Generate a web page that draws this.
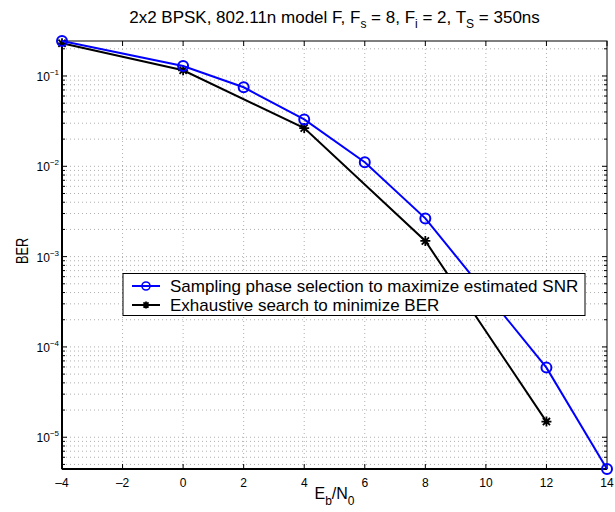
<!DOCTYPE html>
<html>
<head>
<meta charset="utf-8">
<script src="https://cdn.jsdelivr.net/npm/d3@7"></script>
<style>
  body { margin: 0; background: #fff; }
  svg text { font-family: "Liberation Sans", Arial, Helvetica, sans-serif; }
</style>
</head>
<body>
<div id="chart"></div>
<script>
// Data.
const snrSelectX = [-4, 0, 2, 4, 6, 8, 12, 14];
const snrSelectBER = [0.244, 0.129, 0.075, 0.033, 0.0111, 0.00265, 5.9e-5, 4.45e-6];
const exhaustiveX = [-4, 0, 4, 8, 12];
const exhaustiveBER = [0.23, 0.1156, 0.0265, 0.00149, 1.49e-5];
const xTicks = [-4, -2, 0, 2, 4, 6, 8, 10, 12, 14];
const yExponents = [-1, -2, -3, -4, -5];
const seriesNames = [
  "Sampling phase selection to maximize estimated SNR",
  "Exhaustive search to minimize BER",
];

const width = 615;
const height = 512;
const margin = { top: 41, right: 8, bottom: 43, left: 62 };

const svg = d3
  .select("#chart")
  .append("svg")
  .attr("width", width)
  .attr("height", height);

const x = d3
  .scaleLinear()
  .domain([-4, 14])
  .range([margin.left, width - margin.right]);

const y = d3
  .scaleLog()
  .domain([4.45e-6, 0.244])
  .range([height - margin.bottom, margin.top]);

// Grid lines.
const grid = svg.append("g").attr("stroke", "#9a9a9a").attr("stroke-width", 0.8)
  .attr("stroke-dasharray", "1,3");

grid
  .selectAll("line.vx")
  .data(xTicks.slice(1, -1))
  .enter()
  .append("line")
  .attr("x1", (d) => x(d))
  .attr("x2", (d) => x(d))
  .attr("y1", margin.top)
  .attr("y2", height - margin.bottom);

// Minor and major log values within the domain.
const logVals = [];
for (let e = -6; e <= 0; e++) {
  for (let m = 1; m <= 9; m++) {
    const v = m * Math.pow(10, e);
    if (v >= y.domain()[0] && v <= y.domain()[1]) logVals.push({ v, major: m === 1 });
  }
}

grid
  .selectAll("line.hy")
  .data(logVals)
  .enter()
  .append("line")
  .attr("x1", margin.left)
  .attr("x2", width - margin.right)
  .attr("y1", (d) => y(d.v))
  .attr("y2", (d) => y(d.v));

// Axis box and ticks.
const box = svg.append("g").attr("stroke", "#000");
box
  .append("rect")
  .attr("x", margin.left)
  .attr("y", margin.top)
  .attr("width", width - margin.left - margin.right)
  .attr("height", height - margin.top - margin.bottom)
  .attr("fill", "none")
  .attr("stroke-width", 1);

box.append("line")
  .attr("x1", margin.left).attr("x2", margin.left)
  .attr("y1", margin.top).attr("y2", height - margin.bottom)
  .attr("stroke-width", 2);
box.append("line")
  .attr("x1", margin.left).attr("x2", width - margin.right)
  .attr("y1", height - margin.bottom).attr("y2", height - margin.bottom)
  .attr("stroke-width", 2);

xTicks.forEach((t) => {
  box.append("line")
    .attr("x1", x(t)).attr("x2", x(t))
    .attr("y1", height - margin.bottom).attr("y2", height - margin.bottom - 5);
  box.append("line")
    .attr("x1", x(t)).attr("x2", x(t))
    .attr("y1", margin.top).attr("y2", margin.top + 5);
});

logVals.forEach((d) => {
  const len = d.major ? 5 : 3;
  box.append("line")
    .attr("x1", margin.left).attr("x2", margin.left + len)
    .attr("y1", y(d.v)).attr("y2", y(d.v));
  box.append("line")
    .attr("x1", width - margin.right).attr("x2", width - margin.right - len)
    .attr("y1", y(d.v)).attr("y2", y(d.v));
});

// X tick labels.
svg
  .append("g")
  .selectAll("text")
  .data(xTicks)
  .enter()
  .append("text")
  .attr("x", (d) => x(d))
  .attr("y", height - margin.bottom + 18)
  .attr("text-anchor", "middle")
  .attr("font-size", 12)
  .text((d) => (d < 0 ? "\u2013" + Math.abs(d) : d));

// Y tick labels as 10 with superscript exponent.
const yLab = svg
  .append("g")
  .selectAll("text")
  .data(yExponents)
  .enter()
  .append("text")
  .attr("x", margin.left - 3)
  .attr("y", (d) => y(Math.pow(10, d)) + 5)
  .attr("text-anchor", "end")
  .attr("font-size", 12);
yLab.append("tspan").text("10");
yLab
  .append("tspan")
  .attr("dy", -6)
  .attr("font-size", 8)
  .text((d) => "\u2212" + Math.abs(d));

// Series.
const line = d3
  .line()
  .x((d) => x(d[0]))
  .y((d) => y(d[1]));

const blueData = snrSelectX.map((v, i) => [v, snrSelectBER[i]]);
const blackData = exhaustiveX.map((v, i) => [v, exhaustiveBER[i]]);

function asterisk(g, cx, cy, r) {
  const a = r * 0.72;
  g.append("path")
    .attr(
      "d",
      `M${cx - r},${cy}L${cx + r},${cy}M${cx},${cy - r}L${cx},${cy + r}` +
        `M${cx - a},${cy - a}L${cx + a},${cy + a}M${cx - a},${cy + a}L${cx + a},${cy - a}`
    )
    .attr("stroke", "#000")
    .attr("stroke-width", 1.8)
    .attr("fill", "none");
}

svg
  .append("path")
  .datum(blackData)
  .attr("d", line)
  .attr("fill", "none")
  .attr("stroke", "#000")
  .attr("stroke-width", 2);

const blackMarks = svg.append("g");
blackData.forEach((d) => asterisk(blackMarks, x(d[0]), y(d[1]), 5));

svg
  .append("path")
  .datum(blueData)
  .attr("d", line)
  .attr("fill", "none")
  .attr("stroke", "#0000ff")
  .attr("stroke-width", 2);

svg
  .append("g")
  .selectAll("circle")
  .data(blueData)
  .enter()
  .append("circle")
  .attr("cx", (d) => x(d[0]))
  .attr("cy", (d) => y(d[1]))
  .attr("r", 5)
  .attr("fill", "none")
  .attr("stroke", "#0000ff")
  .attr("stroke-width", 2);

// Legend.
const legend = svg.append("g");
legend
  .append("rect")
  .attr("x", 123)
  .attr("y", 273.5)
  .attr("width", 462)
  .attr("height", 42)
  .attr("fill", "#fff")
  .attr("stroke", "#000")
  .attr("stroke-width", 1);

const legY = [286, 305];
legend.append("line")
  .attr("x1", 132).attr("x2", 160).attr("y1", legY[0]).attr("y2", legY[0])
  .attr("stroke", "#0000ff").attr("stroke-width", 2);
legend.append("circle")
  .attr("cx", 146).attr("cy", legY[0]).attr("r", 4)
  .attr("fill", "none").attr("stroke", "#0000ff").attr("stroke-width", 1.6);
legend.append("line")
  .attr("x1", 132).attr("x2", 160).attr("y1", legY[1]).attr("y2", legY[1])
  .attr("stroke", "#000").attr("stroke-width", 2);
asterisk(legend, 146, legY[1], 3.5);

legend
  .selectAll("text")
  .data(seriesNames)
  .enter()
  .append("text")
  .attr("x", 170)
  .attr("y", (d, i) => legY[i] + 6)
  .attr("font-size", 17)
  .text((d) => d);

// Title.
const title = svg
  .append("text")
  .attr("x", (margin.left + width - margin.right) / 2)
  .attr("y", 23)
  .attr("text-anchor", "middle")
  .attr("font-size", 17);
title.append("tspan").text("2x2 BPSK, 802.11n model F, F");
title.append("tspan").attr("dy", 5).attr("font-size", 12).text("s");
title.append("tspan").attr("dy", -5).text(" = 8, F");
title.append("tspan").attr("dy", 5).attr("font-size", 12).text("i");
title.append("tspan").attr("dy", -5).text(" = 2, T");
title.append("tspan").attr("dy", 5).attr("font-size", 12).text("S");
title.append("tspan").attr("dy", -5).text(" = 350ns");

// Axis labels.
const xLabel = svg
  .append("text")
  .attr("x", (margin.left + width - margin.right) / 2)
  .attr("y", 499)
  .attr("text-anchor", "middle")
  .attr("font-size", 16);
xLabel.append("tspan").text("E");
xLabel.append("tspan").attr("dy", 6).attr("font-size", 12).text("b");
xLabel.append("tspan").attr("dy", -6).text("/N");
xLabel.append("tspan").attr("dy", 6).attr("font-size", 12).text("0");

svg
  .append("text")
  .attr("transform", `translate(28,251) rotate(-90) scale(0.75,1)`)
  .attr("text-anchor", "middle")
  .attr("font-size", 17)
  .text("BER");
</script>
</body>
</html>
